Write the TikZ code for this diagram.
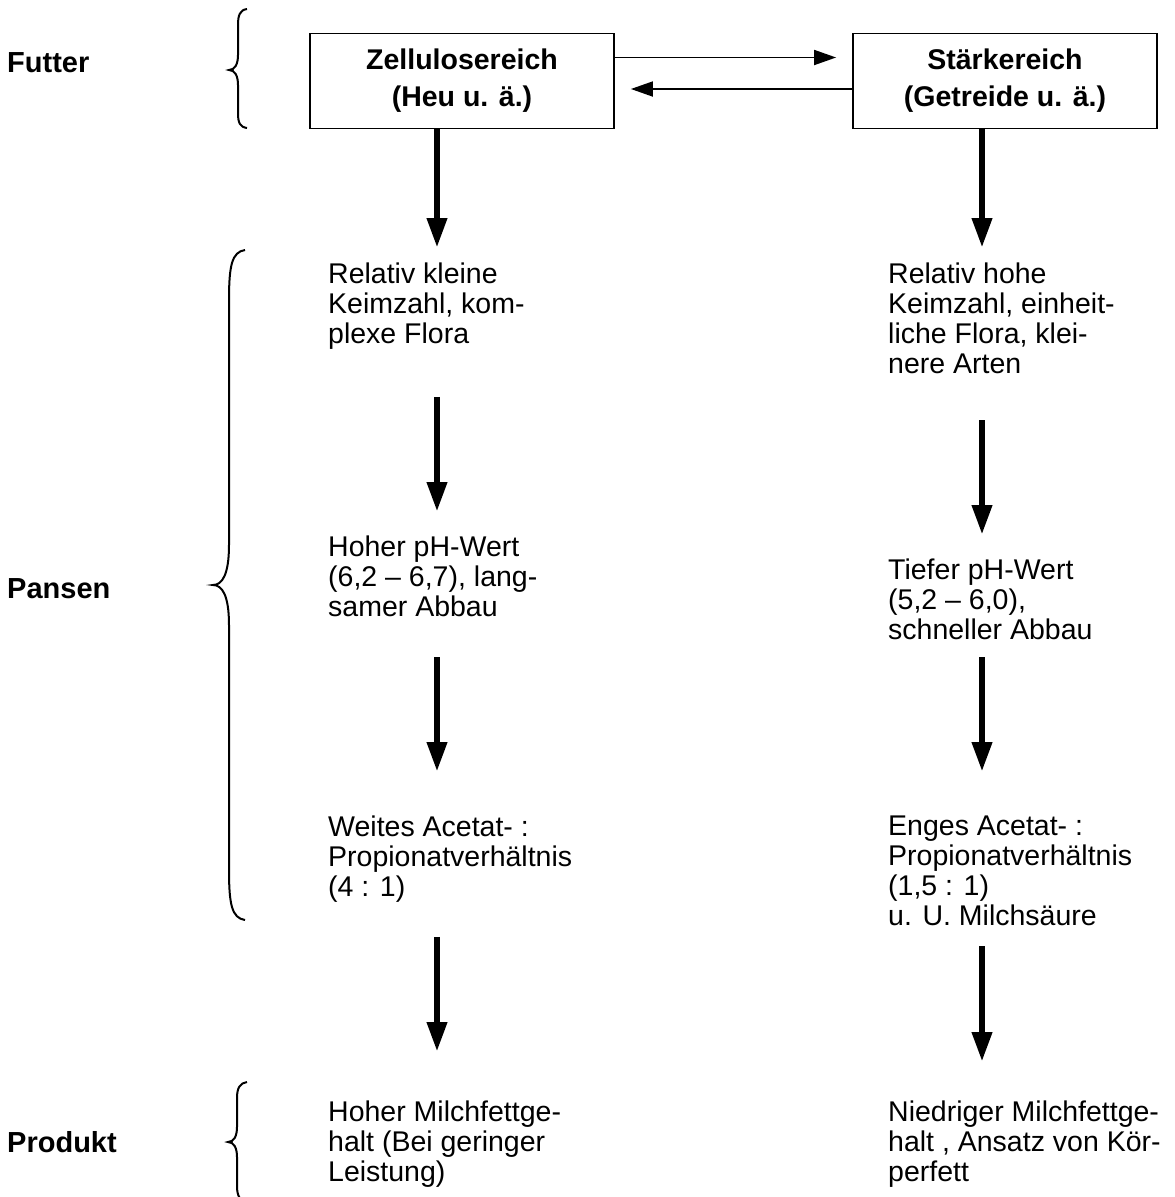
\documentclass[tikz,border=0pt]{standalone}
\usepackage{fontspec}
\setmainfont{Liberation Sans}
\usetikzlibrary{arrows.meta}
\begin{document}
\begin{tikzpicture}[x=1pt,y=-1pt,
  txt/.style={anchor=north west, inner sep=0pt, align=left, font=\fontsize{28.5}{30}\selectfont},
  lbl/.style={anchor=west, inner sep=0pt, font=\fontsize{29}{30}\selectfont\bfseries},
  box/.style={draw, line width=1.8pt, inner sep=0pt, minimum width=304pt, minimum height=95pt, align=center, font=\fontsize{28.5}{37}\selectfont\bfseries},
  bigarr/.style={line width=6.7pt, -{Triangle[length=30pt,width=19pt]}},
  thinarr/.style={line width=1.8pt, -{Triangle[length=22pt,width=15pt]}},
  bracestyle/.style={line width=2pt}]
\useasboundingbox (0,0) rectangle (1175,1197);

% side labels
\node[lbl] (futter) at (7,63) {Futter};
\node[lbl] (pansen) at (7,589) {Pansen};
\node[lbl] (produkt) at (7,1142) {Produkt};

% braces
\draw[bracestyle] (247,9) .. controls (240,10) and (238,15) .. (238,25) -- (238,55) .. controls (238,64) and (235,70) .. (229,70) .. controls (235,70) and (238,76) .. (238,85) -- (238,113) .. controls (238,123) and (240,127) .. (247,128);
\draw[bracestyle] (245,250) .. controls (232,252) and (229,265) .. (229,300) -- (229,545) .. controls (229,575) and (222,585) .. (213,585) .. controls (222,585) and (229,595) .. (229,625) -- (229,870) .. controls (229,905) and (232,918) .. (245,920);
\draw[bracestyle] (247,1082) .. controls (240,1083) and (237,1088) .. (237,1098) -- (237,1127) .. controls (237,1136) and (234,1142) .. (228,1142) .. controls (234,1142) and (237,1148) .. (237,1157) -- (237,1186) .. controls (237,1196) and (240,1201) .. (247,1202);

% boxes
\node[box] (lbox) at (462,81) {Zellulosereich\\(Heu u. ä.)};
\node[box] (rbox) at (1005,81) {Stärkereich\\(Getreide u. ä.)};

\draw[thinarr, shorten >=16pt] ([yshift=23.5pt]lbox.east) -- ([yshift=23.5pt]rbox.west);
\draw[thinarr, shorten >=16pt] ([yshift=-8pt]rbox.west) -- ([yshift=-8pt]lbox.east);

% column x of arrows
\coordinate (lx) at (437,0);
\coordinate (rx) at (982,0);

% left column texts
\node[txt] (a1) at (328,263) {Relativ kleine\\Keimzahl, kom-\\plexe Flora};
\node[txt] (a2) at (328,536) {Hoher pH-Wert\\(6,2 – 6,7), lang-\\samer Abbau};
\node[txt] (a3) at (328,816) {Weites Acetat- :\\Propionatverhältnis\\(4 : 1)};
\node[txt] (a4) at (328,1101) {Hoher Milchfettge-\\halt (Bei geringer\\Leistung)};

% right column texts
\node[txt] (b1) at (888,263) {Relativ hohe\\Keimzahl, einheit-\\liche Flora, klei-\\nere Arten};
\node[txt] (b2) at (888,559) {Tiefer pH-Wert\\(5,2 – 6,0),\\schneller Abbau};
\node[txt] (b3) at (888,816) {Enges Acetat- :\\Propionatverhältnis\\(1,5 : 1)\\u. U. Milchsäure};
\node[txt] (b4) at (888,1101) {Niedriger Milchfettge-\\halt , Ansatz von Kör-\\perfett};

% left arrows
\draw[bigarr, shorten >=15pt] (lbox.south -| lx) -- (a1.north -| lx);
\draw[bigarr, shorten <=47pt, shorten >=24pt] (a1.south -| lx) -- (a2.north -| lx);
\draw[bigarr, shorten <=40pt, shorten >=44pt] (a2.south -| lx) -- (a3.north -| lx);
\draw[bigarr, shorten <=34pt, shorten >=49pt] (a3.south -| lx) -- (a4.north -| lx);

% right arrows
\draw[bigarr, shorten >=15pt] (rbox.south -| rx) -- (b1.north -| rx);
\draw[bigarr, shorten <=46pt, shorten >=24pt] (b1.south -| rx) -- (b2.north -| rx);
\draw[bigarr, shorten <=17pt, shorten >=44pt] (b2.south -| rx) -- (b3.north -| rx);
\draw[bigarr, shorten <=20pt, shorten >=39pt] (b3.south -| rx) -- (b4.north -| rx);
\end{tikzpicture}
\end{document}
